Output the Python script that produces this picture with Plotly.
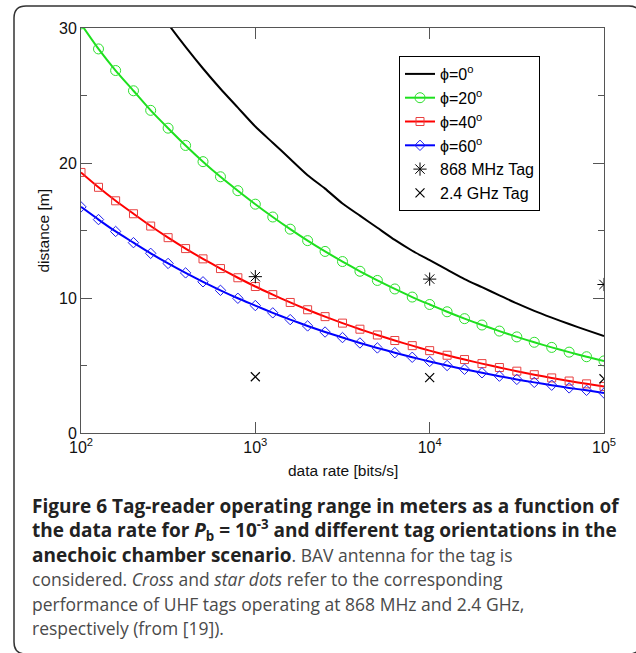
import plotly.graph_objects as go

# ---------------- data ----------------
data_rate = [100, 126, 158, 200, 251, 316, 398, 501, 631, 794,
             1000, 1259, 1585, 1995, 2512, 3162, 3981, 5012, 6310, 7943,
             10000, 12589, 15849, 19953, 25119, 31623, 39811, 50119, 63096, 79433,
             100000]

phi0 = [40.4, 38.1, 36.0, 34.0, 32.1, 30.3, 28.6, 27.0, 25.5, 24.1,
        22.7, 21.5, 20.3, 19.1, 18.1, 17.0, 16.1, 15.2, 14.3, 13.5,
        12.8, 12.1, 11.4, 10.8, 10.2, 9.6, 9.05, 8.55, 8.07, 7.62, 7.19]

phi20 = [30.3, 28.45, 26.85, 25.35, 23.9, 22.58, 21.3, 20.1, 18.98, 17.95,
         16.95, 16.0, 15.1, 14.25, 13.45, 12.7, 11.98, 11.3, 10.67, 10.07,
         9.52, 8.98, 8.47, 8.0, 7.55, 7.12, 6.72, 6.34, 5.99, 5.65, 5.34]

phi40 = [19.3, 18.2, 17.2, 16.24, 15.33, 14.47, 13.66, 12.9, 12.18, 11.5,
         10.85, 10.25, 9.67, 9.13, 8.62, 8.14, 7.69, 7.26, 6.85, 6.47,
         6.1, 5.76, 5.44, 5.14, 4.85, 4.58, 4.32, 4.08, 3.85, 3.64, 3.45]

phi60 = [16.75, 15.81, 14.93, 14.1, 13.31, 12.56, 11.86, 11.2, 10.57, 9.98,
         9.44, 8.9, 8.4, 7.93, 7.48, 7.07, 6.67, 6.3, 5.95, 5.61,
         5.3, 5.0, 4.72, 4.46, 4.21, 3.97, 3.75, 3.54, 3.34, 3.16, 2.96]

tag_rate = [1000, 10000, 100000]
tag_868 = [11.58, 11.4, 11.0]
tag_24 = [4.17, 4.1, 4.02]

series_names = ["\u03d5=0<sup>o</sup>", "\u03d5=20<sup>o</sup>",
                "\u03d5=40<sup>o</sup>", "\u03d5=60<sup>o</sup>",
                "868 MHz Tag", "2.4 GHz Tag"]

x_tickvals = [100, 1000, 10000, 100000]
x_ticktext = ["10<sup>2</sup>", "10<sup>3</sup>", "10<sup>4</sup>", "10<sup>5</sup>"]
y_tickvals = [0, 10, 20, 30]
y_minor_vals = [5, 15, 25]

x_title = "data rate [bits/s]"
y_title = "distance [m]"

REG = "<span style='font-size:17.5px;color:#4a4a4a'>"
caption_lines = [
    "<b>Figure 6 Tag-reader operating range in meters as a function of</b>",
    "<b>the data rate for <i>P</i><sub>b</sub> = 10<sup>-3</sup> and different tag orientations in the</b>",
    "<b>anechoic chamber scenario</b>" + REG + ". BAV antenna for the tag is</span>",
    REG + "considered. <i>Cross</i> and <i>star dots</i> refer to the corresponding</span>",
    REG + "performance of UHF tags operating at 868 MHz and 2.4 GHz,</span>",
    REG + "respectively (from [19]).</span>",
]

# ---------------- layout helpers (pixel -> paper) ----------------
W, H = 636, 653
L, R, T, B = 81, 604, 28, 433  # plot area in pixels
PW, PH = R - L, B - T


def px(x):
    return (x - L) / PW


def py(y):
    return (B - y) / PH


fig = go.Figure()

fig.add_trace(go.Scatter(x=data_rate, y=phi0, mode="lines", name=series_names[0],
                         line=dict(color="black", width=2, shape="spline", smoothing=0.6)))
fig.add_trace(go.Scatter(x=data_rate, y=phi20, mode="lines+markers", name=series_names[1],
                         line=dict(color="#1ee01e", width=2, shape="spline", smoothing=0.6),
                         marker=dict(symbol="circle-open", size=10, color="#2ee02e",
                                     line=dict(color="#2ee02e", width=1))))
fig.add_trace(go.Scatter(x=data_rate, y=phi40, mode="lines+markers", name=series_names[2],
                         line=dict(color="#ff0000", width=2, shape="spline", smoothing=0.6),
                         marker=dict(symbol="square-open", size=8, color="#e84040",
                                     line=dict(color="#e84040", width=1))))
fig.add_trace(go.Scatter(x=data_rate, y=phi60, mode="lines+markers", name=series_names[3],
                         line=dict(color="#0000ff", width=2, shape="spline", smoothing=0.6),
                         marker=dict(symbol="diamond-open", size=8, color="#2020ee",
                                     line=dict(color="#2020ee", width=1))))
fig.add_trace(go.Scatter(x=tag_rate, y=tag_868, mode="markers", name=series_names[4],
                         marker=dict(symbol="asterisk-open", size=11, color="black",
                                     line=dict(color="black", width=1))))
fig.add_trace(go.Scatter(x=tag_rate, y=tag_24, mode="markers", name=series_names[5],
                         marker=dict(symbol="x-thin-open", size=9, color="black",
                                     line=dict(color="black", width=1.2))))

axis_font = dict(family="Liberation Sans, Arial, sans-serif", size=16, color="#111")

fig.update_xaxes(type="log", range=[2, 5], tickvals=x_tickvals, ticktext=x_ticktext,
                 showgrid=False, zeroline=False, showline=True, linecolor="#555",
                 linewidth=1, mirror="ticks", ticks="inside", ticklen=11,
                 tickcolor="#555", tickfont=axis_font)
fig.update_yaxes(range=[0, 30], tickvals=y_tickvals, showgrid=False, zeroline=False,
                 showline=True, linecolor="#555", linewidth=1, mirror="ticks",
                 ticks="inside", ticklen=11, tickcolor="#555", tickfont=axis_font,
                 minor=dict(tickvals=y_minor_vals, ticks="inside", ticklen=6,
                            tickcolor="#555", showgrid=False))

title_font = dict(family="Liberation Sans, Arial, sans-serif", size=15.5, color="#111")
annotations = [
    dict(text=x_title, x=0.5, y=py(470), xref="paper", yref="paper",
         showarrow=False, xanchor="center", yanchor="middle", font=title_font),
    dict(text=y_title, x=px(43), y=0.5, xref="paper", yref="paper",
         showarrow=False, xanchor="center", yanchor="middle", textangle=-90,
         font=title_font),
]
for i, line in enumerate(caption_lines):
    annotations.append(dict(
        text=line, x=px(30), y=py(506 + 24.4 * i), xref="paper", yref="paper",
        showarrow=False, xanchor="left", yanchor="middle", align="left",
        font=dict(family="Open Sans, sans-serif", size=19, color="#222")))

# rounded border around the whole figure
x0, x1 = px(14), px(641)
y0, y1 = py(6), py(654)
rx, ry = 12 / PW, 12 / PH
border = (f"M {x0 + rx},{y0} L {x1 - rx},{y0} Q {x1},{y0} {x1},{y0 - ry} "
          f"L {x1},{y1 + ry} Q {x1},{y1} {x1 - rx},{y1} "
          f"L {x0 + rx},{y1} Q {x0},{y1} {x0},{y1 + ry} "
          f"L {x0},{y0 - ry} Q {x0},{y0} {x0 + rx},{y0} Z")

fig.update_layout(
    width=W, height=H,
    margin=dict(l=L, r=W - R, t=T, b=H - B),
    paper_bgcolor="white", plot_bgcolor="white",
    showlegend=True,
    legend=dict(x=px(399), y=py(56), xanchor="left", yanchor="top",
                bgcolor="white", bordercolor="black", borderwidth=1,
                font=dict(family="Liberation Sans, Arial, sans-serif", size=16, color="black"),
                itemwidth=30, tracegroupgap=0),
    annotations=annotations,
    shapes=[dict(type="path", path=border, xref="paper", yref="paper",
                 line=dict(color="#333", width=1.5), layer="above")],
)

fig.write_html("out.html",
               config={"displayModeBar": False},
               post_script="document.body.style.margin='0';"
                           "document.body.style.overflow='hidden';")
